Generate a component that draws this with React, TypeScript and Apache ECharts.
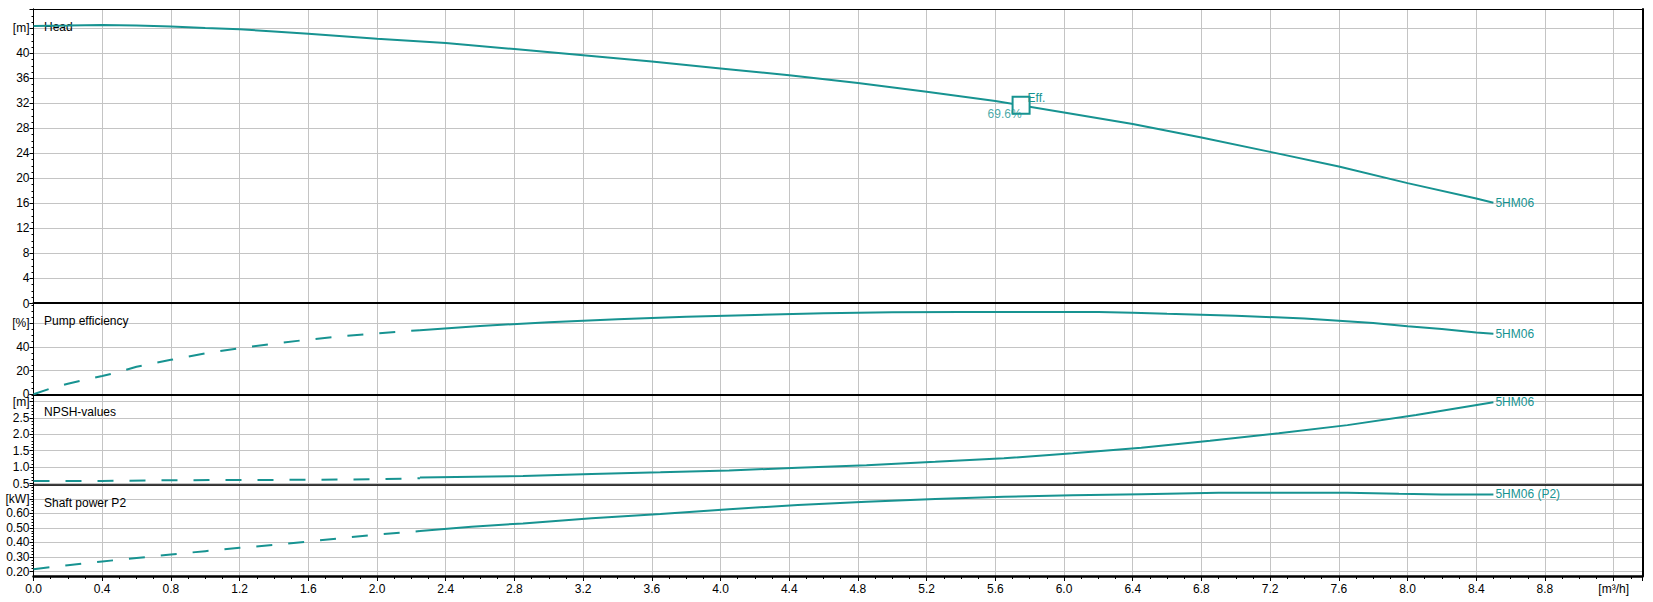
import React, { useEffect, useRef } from 'react';
import * as echarts from 'echarts';

// ---- Data ----
const headFlow = [0, 0.2, 0.4, 0.6, 0.8, 1.0, 1.2, 1.4, 1.6, 2.0, 2.4, 2.8, 3.2, 3.6, 4.0, 4.4, 4.8, 5.2, 5.6, 6.0, 6.4, 6.8, 7.2, 7.6, 8.0, 8.4, 8.5];
const headValues = [44.4, 44.45, 44.55, 44.45, 44.3, 44.05, 43.85, 43.5, 43.15, 42.35, 41.65, 40.7, 39.7, 38.7, 37.6, 36.5, 35.25, 33.85, 32.4, 30.55, 28.7, 26.55, 24.25, 21.9, 19.25, 16.8, 16.1];

const effFlowDashed = [0, 0.1, 0.2, 0.3, 0.4, 0.5, 0.6, 0.8, 1.0, 1.2, 1.4, 1.6, 1.8, 2.0, 2.25];
const effDashed = [0, 5, 9, 12.3, 15.5, 19, 23.3, 29.2, 34.7, 39, 42.9, 46.3, 49.2, 51.5, 54.3];
const effFlowSolid = [2.25, 2.6, 3.0, 3.4, 3.8, 4.2, 4.6, 5.0, 5.4, 5.8, 6.2, 6.4, 6.6, 7.0, 7.4, 7.8, 8.0, 8.2, 8.4, 8.5];
const effSolid = [54.3, 57.9, 61, 63.5, 65.6, 67.2, 68.6, 69.4, 69.7, 69.7, 69.6, 69.1, 68.2, 66.5, 64.2, 60.4, 57.7, 55.2, 52.3, 51.2];

const npshFlowDashed = [0, 0.4, 0.8, 1.2, 1.6, 2.0, 2.25];
const npshDashed = [0.576, 0.578, 0.6, 0.607, 0.612, 0.63, 0.66];
const npshFlowSolid = [2.25, 2.85, 3.25, 3.65, 4.05, 4.45, 4.85, 5.25, 5.65, 6.05, 6.45, 6.85, 7.25, 7.65, 8.05, 8.5];
const npshSolid = [0.68, 0.73, 0.79, 0.84, 0.9, 0.98, 1.06, 1.16, 1.27, 1.42, 1.59, 1.8, 2.03, 2.28, 2.59, 2.98];

const powerFlowDashed = [0, 0.2, 0.4, 0.6, 0.8, 1.0, 1.2, 1.4, 1.6, 1.8, 2.0, 2.25];
const powerDashed = [0.216, 0.243, 0.269, 0.293, 0.317, 0.34, 0.363, 0.383, 0.406, 0.43, 0.455, 0.478];
const powerFlowSolid = [2.25, 2.55, 2.85, 3.25, 3.65, 4.05, 4.45, 4.85, 5.25, 5.65, 6.05, 6.45, 6.9, 7.65, 7.95, 8.2, 8.5];
const powerSolid = [0.478, 0.508, 0.531, 0.566, 0.595, 0.629, 0.657, 0.679, 0.698, 0.714, 0.725, 0.732, 0.741, 0.741, 0.734, 0.73, 0.73];

const bepFlow = 5.75;
const bepHead = 31.7;
const bepEfficiency = 69.6;

const pumpName = '5HM06';
const panelTitles = ['Head', 'Pump efficiency', 'NPSH-values', 'Shaft power P2'];
const unitLabels = { head: '[m]', eff: '[%]', npsh: '[m]', power: '[kW]', flow: '[m³/h]' };

// ---- Styling ----
const TEAL = '#179391';
const GRID_COLOR = '#c4c4c4';
const FONT = '"Liberation Sans", Arial, sans-serif';
const X_MAX = 9.368;
const L = 33.5;
const R = 10.5;

const pairs = (xs: number[], ys: number[]) => xs.map((x, i) => [x, ys[i]]);
const near = (a: number, b: number) => Math.abs(a - b) < 1e-6;

export default function App() {
  const ref = useRef<HTMLDivElement>(null);

  useEffect(() => {
    const chart = echarts.init(ref.current!, null, { renderer: 'svg' });

    const hiddenX = (gridIndex: number, width: number) => ({
      type: 'value',
      gridIndex,
      min: 0,
      max: X_MAX,
      position: 'top',
      axisLine: { show: true, onZero: false, lineStyle: { color: '#000', width } },
      axisTick: { show: false },
      axisLabel: { show: false },
      splitLine: { show: false },
    });

    const leftY = (gridIndex: number, min: number, max: number, interval: number, minorSplit: number, fmt: (v: number) => string) => ({
      type: 'value',
      gridIndex,
      min,
      max,
      interval,
      position: 'left',
      axisLine: { show: true, onZero: false, lineStyle: { color: '#000', width: 1 } },
      axisTick: { show: true, length: 4, lineStyle: { color: '#000' } },
      minorTick: { show: true, splitNumber: minorSplit, length: 2, lineStyle: { color: '#000' } },
      axisLabel: { show: true, color: '#000', fontSize: 12, fontFamily: FONT, margin: 4, formatter: fmt, showMaxLabel: true },
      splitLine: { show: true, lineStyle: { color: GRID_COLOR, width: 1 } },
    });

    const textStyle = { color: TEAL, fontSize: 12, fontFamily: FONT };

    const dashedLine = (idx: number, data: number[][]) => ({
      type: 'line',
      xAxisIndex: idx,
      yAxisIndex: idx,
      data,
      showSymbol: false,
      symbol: 'none',
      silent: true,
      z: 3,
      lineStyle: { color: TEAL, width: 2, type: [16, 16] },
    });

    const solidLine = (idx: number, data: number[][], label: string) => ({
      type: 'line',
      xAxisIndex: idx,
      yAxisIndex: idx,
      data,
      showSymbol: false,
      symbol: 'none',
      silent: true,
      z: 3,
      lineStyle: { color: TEAL, width: 2, type: 'solid' },
      endLabel: { show: true, formatter: label, distance: 2, ...textStyle },
    });

    const option = {
      animation: false,
      backgroundColor: '#fff',
      grid: [
        { left: L, right: R, top: 9, height: 294.5 },
        { left: L, right: R, top: 303, height: 91.3 },
        { left: L, right: R, top: 394.3, height: 89.2 },
        { left: L, right: R, top: 485, height: 86.5 },
        { left: L, right: R, top: 9, height: 567 },
      ],
      xAxis: [
        hiddenX(0, 1),
        hiddenX(1, 2),
        hiddenX(2, 2),
        hiddenX(3, 1.5),
        {
          type: 'value',
          gridIndex: 4,
          min: 0,
          max: X_MAX,
          interval: 0.4,
          position: 'bottom',
          z: -1,
          axisLine: { show: true, onZero: false, lineStyle: { color: '#000', width: 2.5 } },
          axisTick: { show: true, length: 5, lineStyle: { color: '#000' } },
          minorTick: { show: true, splitNumber: 4, length: 3, lineStyle: { color: '#000' } },
          axisLabel: {
            color: '#000',
            fontSize: 12,
            fontFamily: FONT,
            margin: 7,
            formatter: (v: number) => (near(v, 9.2) ? unitLabels.flow : v > 9.25 ? '' : v.toFixed(1)),
          },
          splitLine: { show: true, showMinLine: false, showMaxLine: false, lineStyle: { color: GRID_COLOR, width: 1 } },
        },
      ],
      yAxis: [
        leftY(0, 0, 47.1, 4, 4, (v) => (near(v, 44) ? unitLabels.head : v > 44 ? '' : String(v))),
        leftY(1, 0, 77.3, 20, 4, (v) => (near(v, 60) ? unitLabels.eff : v > 60 ? '' : String(v))),
        leftY(2, 0.5, 3.22, 0.5, 5, (v) => (near(v, 3) ? unitLabels.npsh : v > 3.05 ? '' : v.toFixed(1))),
        leftY(3, 0.2, 0.795, 0.1, 5, (v) => (near(v, 0.7) ? unitLabels.power : v > 0.75 ? '' : v.toFixed(2))),
        {
          type: 'value',
          gridIndex: 4,
          min: 0,
          max: 1,
          position: 'right',
          axisLine: { show: true, onZero: false, lineStyle: { color: '#000', width: 2 } },
          axisTick: { show: false },
          axisLabel: { show: false },
          splitLine: { show: false },
        },
        {
          type: 'value',
          gridIndex: 4,
          min: 0,
          max: 1,
          position: 'left',
          axisLine: { show: true, onZero: false, lineStyle: { color: '#000', width: 1 } },
          axisTick: { show: false },
          axisLabel: { show: false },
          splitLine: { show: false },
        },
      ],
      graphic: [
        { type: 'text', x: 44, y: 26.5, z: 1, style: { text: panelTitles[0], font: `12px ${FONT}`, fill: '#000', verticalAlign: 'middle' } },
        { type: 'text', x: 44, y: 320.5, z: 1, style: { text: panelTitles[1], font: `12px ${FONT}`, fill: '#000', verticalAlign: 'middle' } },
        { type: 'text', x: 44, y: 411.5, z: 1, style: { text: panelTitles[2], font: `12px ${FONT}`, fill: '#000', verticalAlign: 'middle' } },
        { type: 'text', x: 44, y: 503, z: 1, style: { text: panelTitles[3], font: `12px ${FONT}`, fill: '#000', verticalAlign: 'middle' } },
      ],
      series: [
        solidLine(0, pairs(headFlow, headValues), pumpName),
        dashedLine(1, pairs(effFlowDashed, effDashed)),
        solidLine(1, pairs(effFlowSolid, effSolid), pumpName),
        dashedLine(2, pairs(npshFlowDashed, npshDashed)),
        solidLine(2, pairs(npshFlowSolid, npshSolid), pumpName),
        dashedLine(3, pairs(powerFlowDashed, powerDashed)),
        solidLine(3, pairs(powerFlowSolid, powerSolid), `${pumpName} (P2)`),
        {
          type: 'scatter',
          xAxisIndex: 0,
          yAxisIndex: 0,
          silent: true,
          z: 5,
          data: [[bepFlow, bepHead]],
          symbol: 'rect',
          symbolSize: 17,
          itemStyle: { color: '#fff', borderColor: TEAL, borderWidth: 2, opacity: 1 },
          label: { show: true, formatter: 'Eff.', position: [16, 2], align: 'left', verticalAlign: 'middle', ...textStyle },
        },
        {
          type: 'scatter',
          xAxisIndex: 0,
          yAxisIndex: 0,
          silent: true,
          z: 6,
          data: [[bepFlow, bepHead]],
          symbol: 'rect',
          symbolSize: 17,
          itemStyle: { color: 'rgba(0,0,0,0)', borderWidth: 0 },
          label: { show: true, formatter: `${bepEfficiency}%`, position: [-25, 17], align: 'left', verticalAlign: 'middle', ...textStyle },
        },
      ],
    };

    chart.setOption(option as any);
    return () => chart.dispose();
  }, []);

  return (
    <div
      ref={ref}
      style={{ position: 'absolute', left: 0, top: 0, width: 1653, height: 602, background: '#fff' }}
    />
  );
}
